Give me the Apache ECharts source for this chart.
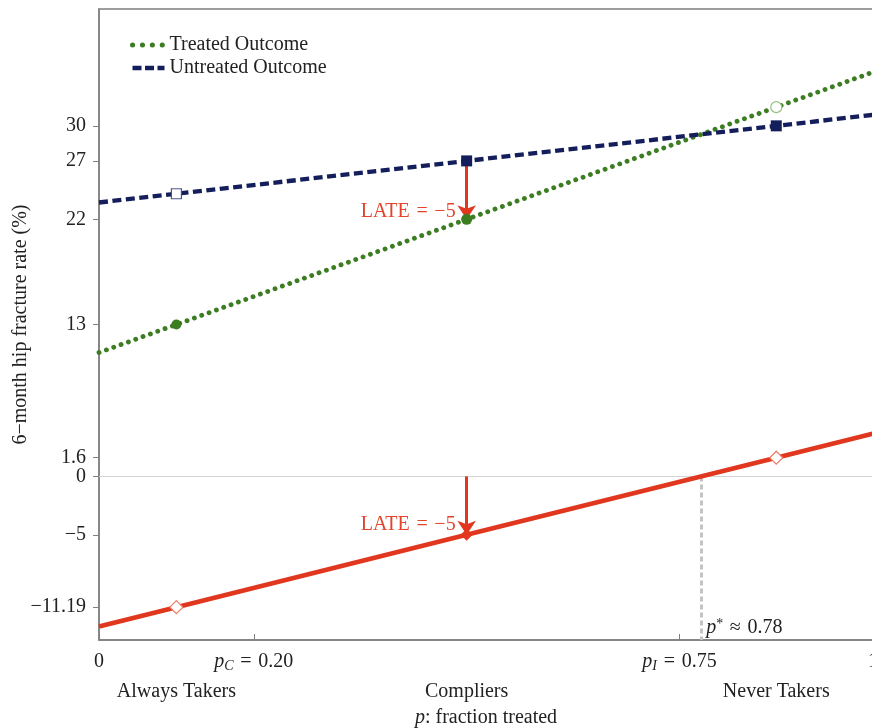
<!DOCTYPE html>
<html>
<head>
<meta charset="utf-8">
<script src="https://cdn.jsdelivr.net/npm/echarts@6/dist/echarts.min.js"></script>
<style>
  html, body { margin: 0; padding: 0; background: #ffffff; }
  #chart { width: 872px; height: 728px; }
</style>
</head>
<body>
<div id="chart"></div>
<script>
// Fraction treated (p) at which the outcome lines are evaluated
const pGrid = [0, 0.1, 0.475, 0.875, 1];
// 6-month hip fracture rate (%) along p
const treatedOutcome = [10.6, 13, 22, 31.6, 34.6];
const untreatedOutcome = [23.44, 24.19, 27, 30, 30.94];
// treated minus untreated
const treatmentEffect = [-12.84, -11.19, -5, 1.6, 3.66];

// indices into pGrid where the three strata sit
const strataIndex = [1, 2, 3];
const strataNames = ['Always Takers', 'Compliers', 'Never Takers'];

// local average treatment effect among compliers
const lateValue = -5;
const compliersIndex = 2;
// p at which the effect changes sign
const pStar = 0.778;
const pStarText = '0.78';

const xTickValues = [0, 0.2, 0.75, 1];
const xTickLabels = ['{n|0}', '{i|p}{s|C}{n|\u2004=\u20040.20}', '{i|p}{s|I}{n|\u2004=\u20040.75}', '{n|1}'];
const yTickValues = [-11.19, -5, 0, 1.6, 13, 22, 27, 30];

const FONT = 'Liberation Serif';
const FS = 20;
const TEXT = '#222222';
const AXIS = '#7f7f7f';
const GREEN = '#3c7d22';
const NAVY = '#141e5a';
const RED = '#e1371e';

const richBase = {
  n: { fontFamily: FONT, fontSize: FS, color: TEXT, lineHeight: 22 },
  i: { fontFamily: FONT, fontSize: FS, color: TEXT, fontStyle: 'italic', lineHeight: 22 },
  s: { fontFamily: FONT, fontSize: 14, color: TEXT, fontStyle: 'italic', lineHeight: 13, verticalAlign: 'bottom' },
  sup: { fontFamily: FONT, fontSize: 14, color: TEXT, lineHeight: 13, verticalAlign: 'top' }
};

function pairs(values) {
  return pGrid.map((p, i) => [p, values[i]]);
}

// filled or open markers at the three strata
function markers(values, filled, color, openBorder, symbol, size) {
  return strataIndex.map((idx, k) => ({
    value: [pGrid[idx], values[idx]],
    symbol: symbol,
    symbolSize: size[k],
    itemStyle: filled[k]
      ? { color: color, borderWidth: 0, opacity: 1 }
      : { color: '#ffffff', borderColor: openBorder, borderWidth: 1.2, opacity: 1 }
  }));
}

function minusText(v) {
  return v < 0 ? '\u2212' + Math.abs(v) : String(v);
}

const chart = echarts.init(document.getElementById('chart'), null, { renderer: 'canvas' });

const xAxisCommon = { type: 'value', min: 0, max: 1, gridIndex: 0, splitLine: { show: false } };
const strataP = strataIndex.map(i => pGrid[i]);
const dottedStyle = { color: GREEN, width: 4.8, type: [0.1, 7.7], cap: 'round' };
const dashedStyle = { color: NAVY, width: 4.3, type: [9, 4.5], cap: 'butt' };

chart.setOption({
  animation: false,
  backgroundColor: '#ffffff',
  grid: {
    left: 99, top: 9, width: 774, height: 631,
    show: true, borderColor: AXIS, borderWidth: 1.5,
    containLabel: false, outerBoundsMode: 'none'
  },
  legend: {
    data: [
      { name: 'Treated Outcome', lineStyle: { color: GREEN, width: 5, type: [0.1, 9.8], cap: 'round' }, itemStyle: { opacity: 0 } },
      { name: 'Untreated Outcome', lineStyle: { color: NAVY, width: 4.3, type: [9, 3.5], cap: 'butt' }, itemStyle: { opacity: 0 } }
    ],
    orient: 'vertical',
    left: 130, top: 35, padding: 0,
    itemWidth: 32, itemHeight: 14, itemGap: 3,
    textStyle: { fontFamily: FONT, fontSize: FS, color: TEXT, lineHeight: 20 }
  },
  xAxis: [
    Object.assign({}, xAxisCommon, {
      position: 'bottom',
      axisLine: { show: true, onZero: false, lineStyle: { color: AXIS, width: 1.5 } },
      axisTick: { show: true, inside: true, length: 6, customValues: xTickValues, lineStyle: { color: AXIS, width: 1 } },
      axisLabel: {
        customValues: xTickValues,
        margin: 11,
        formatter: v => xTickLabels[xTickValues.indexOf(v)],
        rich: richBase
      }
    }),
    Object.assign({}, xAxisCommon, {
      position: 'bottom',
      offset: 31,
      axisLine: { show: false, onZero: false },
      axisTick: { show: false },
      axisLabel: {
        customValues: strataP,
        margin: 11,
        fontFamily: FONT, fontSize: FS, color: TEXT,
        formatter: v => strataNames[strataP.indexOf(v)]
      },
      name: '{i|p}{n|: fraction treated}',
      nameLocation: 'middle',
      nameGap: 36,
      nameMoveOverlap: false,
      nameTextStyle: { rich: richBase }
    })
  ],
  yAxis: {
    type: 'value', min: -14, max: 40,
    splitLine: { show: false },
    axisLine: { show: true, onZero: false, lineStyle: { color: AXIS, width: 1.5 } },
    axisTick: { show: true, inside: false, length: 6, customValues: yTickValues, lineStyle: { color: AXIS, width: 1 } },
    axisLabel: {
      customValues: yTickValues,
      margin: 13,
      fontFamily: FONT, fontSize: FS, color: TEXT,
      formatter: v => minusText(v)
    },
    name: '6\u2212month hip fracture rate (%)',
    nameLocation: 'middle',
    nameGap: 68,
    nameMoveOverlap: false,
    nameTextStyle: { fontFamily: FONT, fontSize: FS, color: TEXT }
  },
  series: [
    {
      name: 'Treated Outcome',
      type: 'line',
      data: pairs(treatedOutcome),
      symbol: 'none',
      z: 3,
      lineStyle: dottedStyle,
      itemStyle: { color: GREEN },
      // arrows showing the complier effect
      markLine: {
        z: 4,
        silent: true,
        symbol: ['none', 'arrow'],
        symbolSize: 14,
        label: { show: false },
        lineStyle: { color: RED, width: 3, type: 'solid' },
        data: [
          [
            { coord: [pGrid[compliersIndex], untreatedOutcome[compliersIndex]] },
            { coord: [pGrid[compliersIndex], treatedOutcome[compliersIndex]] }
          ],
          [
            { coord: [pGrid[compliersIndex], 0] },
            { coord: [pGrid[compliersIndex], lateValue] }
          ]
        ]
      }
    },
    {
      name: 'Untreated Outcome',
      type: 'line',
      data: pairs(untreatedOutcome),
      symbol: 'none',
      z: 3,
      lineStyle: dashedStyle,
      itemStyle: { color: NAVY }
    },
    {
      name: 'Effect',
      type: 'line',
      data: pairs(treatmentEffect),
      symbol: 'none',
      z: 3,
      lineStyle: { color: RED, width: 4.6 },
      itemStyle: { color: RED },
      markLine: {
        z: 1,
        silent: true,
        symbol: ['none', 'none'],
        label: { show: false },
        data: [
          { yAxis: 0, lineStyle: { color: '#d4d4d4', width: 1, type: 'solid' } },
          [
            { coord: [pStar, 0], lineStyle: { color: '#c4c4c4', width: 3, type: [5, 3] } },
            { coord: [pStar, -14] }
          ]
        ]
      },
      markPoint: {
        z: 6,
        silent: true,
        symbol: 'circle',
        symbolSize: 0,
        data: [
          {
            coord: [pGrid[compliersIndex], treatedOutcome[compliersIndex]],
            label: { show: true, position: 'left', distance: 11, offset: [0, -8],
              formatter: 'LATE\u2004=\u2004' + minusText(lateValue),
              fontFamily: FONT, fontSize: FS, color: '#e2442c' }
          },
          {
            coord: [pGrid[compliersIndex], lateValue],
            label: { show: true, position: 'left', distance: 11, offset: [0, -10],
              formatter: 'LATE\u2004=\u2004' + minusText(lateValue),
              fontFamily: FONT, fontSize: FS, color: '#e2442c' }
          },
          {
            coord: [pStar, -14],
            label: { show: true, position: 'right', distance: 5, offset: [0, -12],
              formatter: '{i|p}{sup|*}{n|\u2004\u2248\u2004' + pStarText + '}',
              rich: richBase }
          }
        ]
      }
    },
    {
      name: 'Treated markers',
      type: 'scatter',
      z: 5,
      data: markers(treatedOutcome, [true, true, false], GREEN, '#95c283', 'circle', [10, 11, 11])
    },
    {
      name: 'Untreated markers',
      type: 'scatter',
      z: 5,
      data: markers(untreatedOutcome, [false, true, true], NAVY, '#4d5588', 'rect', [10, 11, 11])
    },
    {
      name: 'Effect markers',
      type: 'scatter',
      z: 5,
      data: markers(treatmentEffect, [false, true, false], RED, '#ee7a68', 'diamond', [13, 12, 13])
    }
  ]
});
</script>
</body>
</html>
